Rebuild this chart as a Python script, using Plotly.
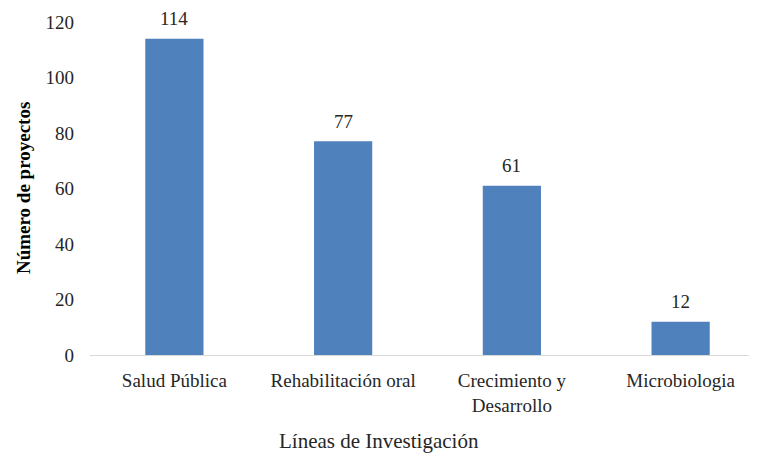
import plotly.graph_objects as go

# Datos
lineas = ['Salud Pública', 'Rehabilitación oral', 'Crecimiento y<br>Desarrollo', 'Microbiologia']
proyectos = [114, 77, 61, 12]
y_ticks = [0, 20, 40, 60, 80, 100, 120]

FONT = 'Liberation Serif'
AZUL = '#4F81BD'
TEXTO = '#262626'

fig = go.Figure()

fig.add_trace(go.Bar(
    x=lineas,
    y=proyectos,
    marker=dict(color=AZUL, line=dict(width=0)),
    width=0.345,
    hoverinfo='x+y',
))

# Etiquetas de valor encima de cada barra
etiquetas = [
    dict(
        x=cat, y=val, text=str(val),
        xref='x', yref='y',
        yshift=20, showarrow=False,
        xanchor='center', yanchor='middle',
        font=dict(family=FONT, size=19, color=TEXTO),
    )
    for cat, val in zip(lineas, proyectos)
]

# la página añade 8px de margen al body, se compensa aquí
fig.update_layout(
    width=757,
    height=457,
    margin=dict(l=82, r=0, t=14, b=110),
    plot_bgcolor='white',
    paper_bgcolor='white',
    font=dict(family=FONT, size=19, color=TEXTO),
    showlegend=False,
    xaxis=dict(
        range=[-0.5, 3.5],
        automargin=False,
        showgrid=False,
        showline=True,
        linecolor='#d9d9d9',
        linewidth=1,
        ticks='',
        ticklabelstandoff=8,
        tickfont=dict(family=FONT, size=19, color=TEXTO),
    ),
    yaxis=dict(
        range=[0, 120],
        automargin=False,
        tickvals=y_ticks,
        showgrid=False,
        zeroline=False,
        showline=False,
        ticks='',
        ticklabelstandoff=15,
        tickfont=dict(family=FONT, size=19, color=TEXTO),
    ),
    annotations=etiquetas + [
        dict(
            text='<b>Número de proyectos</b>',
            xref='paper', yref='paper',
            x=(23 - 89.5) / 675.5, y=0.5,
            xanchor='center', yanchor='middle',
            textangle=-90,
            showarrow=False,
            font=dict(family=FONT, size=19, color='#000000'),
        ),
        dict(
            text='Líneas de Investigación',
            xref='paper', yref='paper',
            x=(379 - 89.5) / 675.5, y=-0.258,
            xanchor='center', yanchor='middle',
            showarrow=False,
            font=dict(family=FONT, size=21, color=TEXTO),
        ),
    ],
)

fig.write_html('out.html')
